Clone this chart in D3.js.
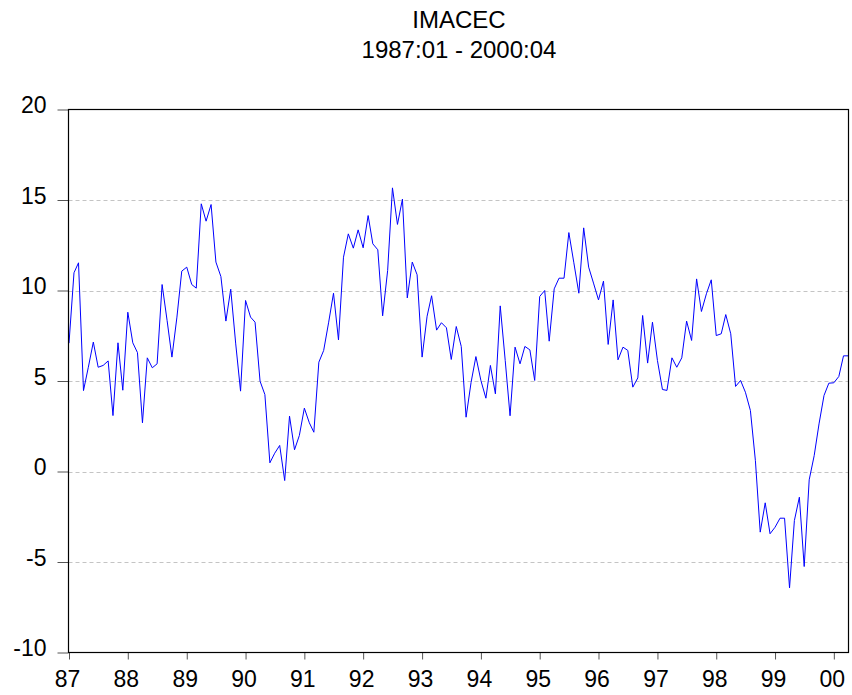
<!DOCTYPE html>
<html>
<head>
<meta charset="utf-8">
<script src="https://cdn.jsdelivr.net/npm/d3@7"></script>
<style>
  body { margin: 0; background: #fff; }
  svg { font-family: "Liberation Sans", Arial, sans-serif; }
</style>
</head>
<body>
<svg id="chart" width="852" height="695"></svg>
<script>
// IMACEC, monthly, 1987:01 - 2000:04
const titleLines = ["IMACEC", "1987:01 - 2000:04"];
const startMonth = new Date(1987, 0, 1);
const imacec = [
    7.09, 10.98, 11.53, 4.47, 5.76, 7.15, 5.76, 5.86, 6.11, 3.09, 7.11, 4.49,      // 87
    8.80, 7.11, 6.57, 2.69, 6.28, 5.73, 5.95, 10.33, 8.34, 6.32, 8.53, 11.07,      // 88
    11.29, 10.33, 10.13, 14.79, 13.83, 14.75, 11.57, 10.77, 8.31, 10.07, 7.05, 4.44, // 89
    9.45, 8.53, 8.25, 4.99, 4.25, 0.48, 1.01, 1.44, -0.50, 3.06, 1.20, 1.99,       // 90
    3.50, 2.69, 2.17, 6.04, 6.69, 8.25, 9.85, 7.27, 11.84, 13.13, 12.34, 13.35,    // 91
    12.36, 14.14, 12.58, 12.25, 8.60, 11.10, 15.67, 13.65, 15.05, 9.59, 11.57, 10.87, // 92
    6.32, 8.58, 9.71, 7.81, 8.22, 7.94, 6.19, 8.01, 6.91, 3.00, 4.92, 6.35,        // 93
    5.03, 4.05, 5.86, 4.29, 9.15, 6.13, 3.08, 6.87, 5.95, 6.91, 6.72, 5.03,        // 94
    9.67, 10.00, 7.20, 10.09, 10.68, 10.68, 13.20, 11.53, 9.85, 13.46, 11.29, 10.41, // 95
    9.48, 10.52, 7.02, 9.48, 6.17, 6.87, 6.69, 4.66, 5.17, 8.62, 5.99, 8.25,       // 96
    6.13, 4.53, 4.48, 6.28, 5.76, 6.28, 8.31, 7.24, 10.64, 8.84, 9.82, 10.59,      // 97
    7.51, 7.61, 8.67, 7.61, 4.70, 5.03, 4.38, 3.37, 0.60, -3.35, -1.73, -3.44,     // 98
    -3.08, -2.58, -2.58, -6.43, -2.71, -1.42, -5.25, -0.46, 0.88, 2.63, 4.20, 4.88, // 99
    4.90, 5.25, 6.39, 6.39                                                          // 00
];
const yearTicks = [1987, 1988, 1989, 1990, 1991, 1992, 1993, 1994, 1995, 1996, 1997, 1998, 1999, 2000];
const yTicks = [-10, -5, 0, 5, 10, 15, 20];
const gridValues = [-5, 0, 5, 10, 15];

const svg = d3.select("#chart");
const plotLeft = 68.5, plotRight = 848.5, plotTop = 109.5, plotBottom = 652.5;

const data = imacec.map((v, i) => ({ date: d3.timeMonth.offset(startMonth, i), value: v }));

const x = d3.scaleTime()
    .domain([data[0].date, data[data.length - 1].date])
    .range([plotLeft + 0.5, plotRight]);

const y = d3.scaleLinear()
    .domain([-10, 20])
    .range([plotBottom, plotTop]);

// title
svg.selectAll("text.title")
    .data(titleLines)
    .join("text")
    .attr("class", "title")
    .attr("x", 459)
    .attr("y", (d, i) => 28 + i * 30)
    .attr("text-anchor", "middle")
    .attr("font-size", 24)
    .attr("fill", "#000")
    .text(d => d);

// dashed gridlines
svg.append("g")
    .selectAll("line")
    .data(gridValues)
    .join("line")
    .attr("x1", plotLeft)
    .attr("x2", plotRight)
    .attr("y1", d => Math.round(y(d)) + 0.5)
    .attr("y2", d => Math.round(y(d)) + 0.5)
    .attr("stroke", "#c4c4c4")
    .attr("stroke-dasharray", "4,3");

// y axis (plain hyphen for negatives, like the original)
const yAxis = svg.append("g")
    .attr("transform", `translate(${plotLeft},0)`)
    .call(d3.axisLeft(y)
        .tickValues(yTicks)
        .tickFormat(d => String(d))
        .tickSize(11)
        .tickPadding(11));
yAxis.select(".domain").remove();
yAxis.selectAll(".tick line").attr("stroke", "#555");
yAxis.selectAll(".tick text")
    .attr("font-size", 23)
    .attr("font-family", "Liberation Sans, Arial, sans-serif")
    .attr("fill", "#000")
    .attr("dy", "0.15em");

// x axis
const xAxis = svg.append("g")
    .attr("transform", `translate(0,${plotBottom})`)
    .call(d3.axisBottom(x)
        .tickValues(yearTicks.map(yr => new Date(yr, 0, 1)))
        .tickFormat(d3.timeFormat("%y"))
        .tickSize(7)
        .tickPadding(11));
xAxis.select(".domain").remove();
xAxis.selectAll(".tick line").attr("stroke", "#555");
xAxis.selectAll(".tick text")
    .attr("font-size", 23)
    .attr("font-family", "Liberation Sans, Arial, sans-serif")
    .attr("fill", "#000")
    .attr("dx", -2);

// series line
const line = d3.line()
    .x(d => x(d.date))
    .y(d => y(d.value));

svg.append("path")
    .datum(data)
    .attr("fill", "none")
    .attr("stroke", "#0000ff")
    .attr("stroke-width", 1)
    .attr("d", line);

// frame
svg.append("rect")
    .attr("x", plotLeft)
    .attr("y", plotTop)
    .attr("width", plotRight - plotLeft)
    .attr("height", plotBottom - plotTop)
    .attr("fill", "none")
    .attr("stroke", "#000")
    .attr("stroke-width", 1.2);
</script>
</body>
</html>
